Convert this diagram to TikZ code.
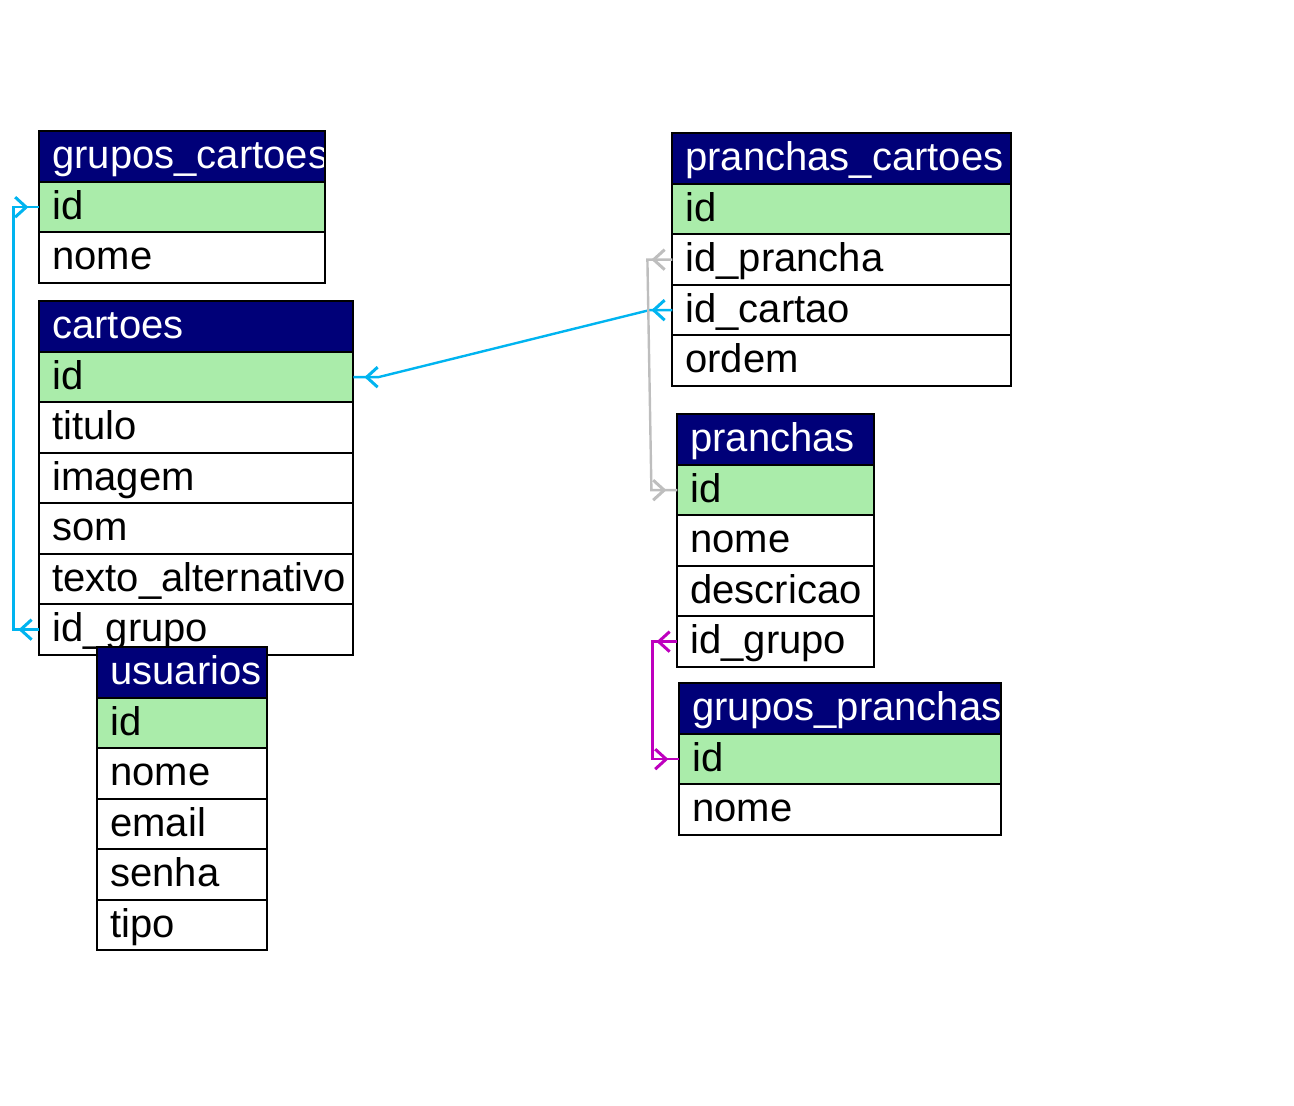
\documentclass[tikz,border=0pt]{standalone}
\usepackage{fontspec}
\setmainfont{Liberation Sans}
\usetikzlibrary{matrix,arrows.meta,decorations.markings}

\definecolor{hdr}{RGB}{0,0,120}
\definecolor{pk}{RGB}{170,236,170}
\definecolor{fkblue}{RGB}{0,180,240}
\definecolor{fkgray}{RGB}{190,190,190}
\definecolor{fkpink}{RGB}{190,0,190}
\hyphenpenalty=10000

\begin{document}
\begin{tikzpicture}[x=0.5pt, y=-0.5pt, font=\fontsize{20}{24}\selectfont,
  table/.style={matrix of nodes, anchor=north west, row sep=-1pt, inner sep=0pt,
    nodes={draw, line width=1pt, fill=white, text width=#1, inner xsep=6.5pt, inner ysep=0pt,
      minimum height=25.25pt, text height=16pt, text depth=4pt, outer sep=0pt},
    row 1/.style={nodes={fill=hdr, text=white}},
    row 2/.style={nodes={fill=pk}},
  },
  fk/.style={draw=#1, line width=1.2pt, postaction={decorate},
    decoration={markings,
      mark=at position 10.5pt with {\arrow[line width=1.5pt]{Straight Barb[length=5.5pt,width=10pt]}},
      mark=at position -5.5pt with {\arrow[line width=1.5pt]{Straight Barb[length=5.5pt,width=10pt]}}}},
]
\useasboundingbox (0,0) rectangle (1294,1106);

\matrix[table=130pt] (gcartoes) at (38,130) {
 grupos\_cartoes \\ id \\ nome \\ };

\matrix[table=144pt] (cartoes) at (38,300) {
 cartoes \\ id \\ titulo \\ imagem \\ som \\ texto\_alternativo \\ id\_grupo \\ };

\matrix[table=72pt] (usuarios) at (96,646) {
 usuarios \\ id \\ nome \\ email \\ senha \\ tipo \\ };

\matrix[table=156.5pt] (pcartoes) at (671,132) {
 pranchas\_cartoes \\ id \\ id\_prancha \\ id\_cartao \\ ordem \\ };

\matrix[table=85.5pt] (pranchas) at (676,413) {
 pranchas \\ id \\ nome \\ descricao \\ id\_grupo \\ };

\matrix[table=148pt] (gpranchas) at (678,682) {
 grupos\_pranchas \\ id \\ nome \\ };

\foreach \t in {gcartoes,gpranchas}
  \draw[line width=1pt] (\t-1-1.north west) rectangle (\t-1-1.south east);

\draw[fk=fkblue] (cartoes-7-1.west) -- ++(-26,0) |- (gcartoes-2-1.west);
\draw[fk=fkblue] (pcartoes-4-1.west) -- ++(-23,0) -- ([xshift=12.5pt]cartoes-2-1.east) -- (cartoes-2-1.east);
\draw[fk=fkgray] (pcartoes-3-1.west) -- ++(-25,0) -- ([xshift=-13pt]pranchas-2-1.west) -- (pranchas-2-1.west);
\draw[fk=fkpink] (pranchas-5-1.west) -- ++(-25,0) |- (gpranchas-2-1.west);

\end{tikzpicture}
\end{document}
